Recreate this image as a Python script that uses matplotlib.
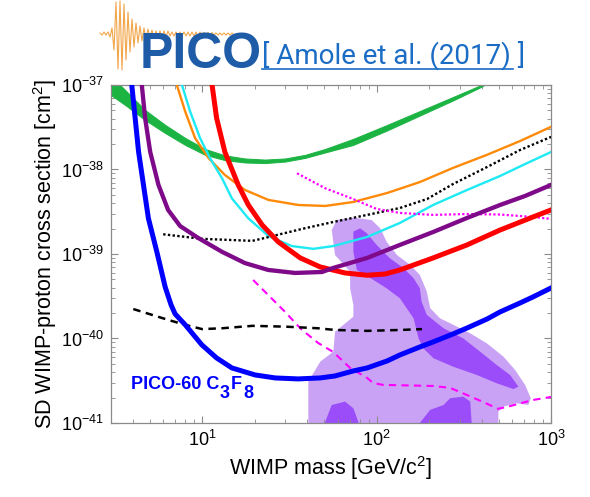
import matplotlib.pyplot as plt
from matplotlib.lines import Line2D
from matplotlib.ticker import LogLocator, NullFormatter

plt.rcParams['font.family'] = ['Liberation Sans', 'DejaVu Sans']
plt.rcParams['mathtext.fontset'] = 'custom'
plt.rcParams['mathtext.rm'] = 'Liberation Sans'
plt.rcParams['mathtext.bf'] = 'Liberation Sans:bold'
plt.rcParams['mathtext.default'] = 'regular'

# WIMP mass [GeV/c^2] and SD WIMP-proton cross section [cm^2] for each limit curve
blue_m = [3.95, 4.13, 4.32, 4.61, 4.92, 5.50, 6.14, 6.64, 7.0, 8.0, 9.96, 12.1, 14.8,
          20.1, 26.2, 35.5, 47.5, 57.8, 73.3, 88.3, 115, 136, 177, 211, 274, 330,
          430, 510, 664, 788, 1000]
blue_s = [1e-37, 4.07e-38, 1.63e-38, 6.56e-39, 2.64e-39, 1.06e-39, 4.06e-40, 2.49e-40,
          1.95e-40, 1.45e-40, 8.4e-41, 5.88e-41, 4.48e-41, 3.7e-41, 3.41e-41, 3.32e-41,
          3.41e-41, 3.6e-41, 4.12e-41, 4.48e-41, 5.42e-41, 6.38e-41, 7.93e-41, 9.1e-41,
          1.13e-40, 1.33e-40, 1.7e-40, 2.06e-40, 2.63e-40, 3.1e-40, 3.96e-40]

purple_m = [4.51, 4.71, 5.04, 5.62, 6.38, 7.48, 9.48, 13.0, 17.6, 23.9, 34.1, 48.7,
            56.4, 88.3, 136, 211, 330, 510, 710, 1000]
purple_s = [1e-37, 4.07e-38, 1.61e-38, 6.56e-39, 3.32e-39, 2.14e-39, 1.55e-39,
            1.06e-39, 7.8e-40, 6.47e-40, 5.96e-40, 6.12e-40, 6.83e-40, 8.98e-40,
            1.28e-39, 1.82e-39, 2.67e-39, 3.8e-39, 4.86e-39, 6.56e-39]

red_m = [11.4, 12.1, 13.5, 16.1, 18.4, 22.1, 27.3, 36.5, 47.5, 65.9, 88.3, 112, 136,
         211, 330, 510, 788, 1000]
red_s = [1e-37, 4.07e-38, 1.61e-38, 6.56e-39, 3.8e-39, 2.2e-39, 1.39e-39, 8.98e-40,
         7.02e-40, 5.96e-40, 5.6e-40, 5.79e-40, 6.47e-40, 8.98e-40, 1.28e-39,
         1.92e-39, 2.74e-39, 3.32e-39]

orange_m = [7.16, 8.0, 9.12, 10.9, 13.5, 17.6, 24.0, 35.6, 50.7, 73.3, 115, 177, 273,
            429, 664, 1000]
orange_s = [1e-37, 4.83e-38, 2.34e-38, 1.36e-38, 8.61e-39, 5.72e-39, 4.36e-39, 3.8e-39,
            3.7e-39, 4.12e-39, 5.27e-39, 7.1e-39, 1.04e-38, 1.49e-38, 2.17e-38, 3.2e-38]

cyan_m = [7.66, 8.54, 9.74, 11.1, 13.0, 14.8, 18.4, 24.0, 32.7, 43.3, 56.4, 88.3, 136,
          211, 330, 510, 710, 1000]
cyan_s = [1e-37, 4.83e-38, 2.34e-38, 1.36e-38, 7.87e-39, 4.56e-39, 2.64e-39, 1.63e-39,
          1.24e-39, 1.15e-39, 1.24e-39, 1.59e-39, 2.33e-39, 3.8e-39, 5.72e-39,
          8.37e-39, 1.16e-38, 1.61e-38]

green_m = [3.0, 3.62, 4.71, 6.14, 8.0, 10.4, 13.5, 17.6, 22.9, 29.9, 38.9, 50.7, 73.3,
           115, 177, 274, 402, 447]
green_hi = [1.28e-37, 8.73e-38, 5.06e-38, 3.37e-38, 2.36e-38, 1.75e-38, 1.47e-38,
            1.35e-38, 1.31e-38, 1.35e-38, 1.49e-38, 1.75e-38, 2.3e-38, 3.37e-38,
            4.92e-38, 7.21e-38, 1.01e-37, 1.2e-37]
green_lo = [7.6e-38, 5.8e-38, 3.85e-38, 2.7e-38, 1.95e-38, 1.49e-38, 1.29e-38,
            1.21e-38, 1.19e-38, 1.24e-38, 1.37e-38, 1.59e-38, 1.95e-38, 2.9e-38,
            4.35e-38, 6.56e-38, 9.6e-38, 1.12e-37]

dot_m = [5.98, 10, 19.4, 22.1, 29.9, 37.4, 56.4, 88.3, 136, 195, 274, 430, 664, 1000]
dot_s = [1.71e-39, 1.51e-39, 1.43e-39, 1.52e-39, 1.77e-39, 1.98e-39, 2.39e-39,
         2.9e-39, 3.5e-39, 4.48e-39, 6.72e-39, 1.07e-38, 1.7e-38, 2.43e-38]

magdot_m = [35.0, 50.7, 73.3, 100, 136, 211, 330, 510, 788, 1000]
magdot_s = [9.02e-39, 6.0e-39, 4.48e-39, 3.41e-39, 3.06e-39, 2.9e-39, 2.97e-39,
            2.93e-39, 2.74e-39, 2.6e-39]

dash_m = [4.03, 5.17, 6.38, 8.0, 10, 13.0, 19.4, 29.9, 46.2, 57.8, 88.3, 136, 182]
dash_s = [2.23e-40, 1.9e-40, 1.66e-40, 1.45e-40, 1.29e-40, 1.32e-40, 1.41e-40,
          1.38e-40, 1.32e-40, 1.26e-40, 1.23e-40, 1.26e-40, 1.29e-40]

magdash_m = [19.6, 23.9, 29.9, 36.9, 46.2, 56.4, 70.5, 88.3, 95.5, 109, 211, 264, 330,
             408, 497, 560, 788, 1000]
magdash_s = [4.92e-40, 3.27e-40, 2.06e-40, 1.29e-40, 8.85e-41, 6.92e-41, 4.48e-41,
             3.41e-41, 2.97e-41, 2.82e-41, 2.74e-41, 2.6e-41, 2.14e-41, 1.77e-41,
             1.47e-41, 1.55e-41, 1.87e-41, 2.03e-41]

# allowed regions (outer contour, inner contours)
light_m = [55.3, 59.2, 73.6, 93.7, 105, 114, 131, 156, 177, 194, 203, 231, 275, 344,
           428, 533, 622, 710, 765, 741, 635, 533, 499, 499, 40.6, 40.6, 47.5, 56.5,
           57.8, 73.6, 73.6, 70.5, 70.5, 57.8]
light_s = [1.92e-39, 2.52e-39, 2.69e-39, 2.52e-39, 2.01e-39, 1.4e-39, 9.7e-40, 7.4e-40,
           5.64e-40, 3.58e-40, 2.28e-40, 1.73e-40, 1.45e-40, 1.15e-40, 8.77e-41,
           6.1e-41, 4.24e-41, 2.82e-41, 1.96e-41, 1.63e-41, 1.71e-41, 1.56e-41,
           1.36e-41, 9e-42, 9e-42, 3.08e-41, 5.3e-41, 6.98e-41, 1.2e-40, 1.81e-40,
           2.49e-40, 3.93e-40, 6.18e-40, 9.7e-40]

dark_m = [73.6, 80.4, 87.9, 100, 119, 143, 163, 177, 181, 194, 242, 314, 392, 488,
          582, 650, 608, 488, 375, 275, 212, 185, 174, 163, 136, 114, 95.9, 77.1, 73.6]
dark_s = [1.84e-39, 2.01e-39, 1.76e-39, 1.28e-39, 8.9e-40, 6.8e-40, 5.15e-40,
          3.93e-40, 2.73e-40, 1.9e-40, 1.32e-40, 1.0e-40, 6.98e-41, 4.85e-41, 3.7e-41,
          2.69e-41, 2.52e-41, 2.95e-41, 3.7e-41, 4.63e-41, 5.83e-41, 7.66e-41,
          1.0e-40, 1.73e-40, 2.99e-40, 3.93e-40, 4.92e-40, 6.47e-40, 1.06e-39]

blob1_m = [49.5, 55.3, 65.9, 73.6, 80.4]
blob1_s = [9e-42, 1.63e-41, 1.79e-41, 1.49e-41, 9e-42]
blob2_m = [170, 203, 242, 264, 314, 344, 352]
blob2_s = [9e-42, 1.43e-41, 1.63e-41, 1.96e-41, 2.05e-41, 1.79e-41, 9e-42]

x_ticks = [10, 100, 1000]
y_ticks = [1e-41, 1e-40, 1e-39, 1e-38, 1e-37]

# logo waveform envelope (header decoration)
wave_env = [1, 1, 2, 1, 2, 3, 6, 16, 32, 35, 33, 36, 30, 26, 22, 18, 15, 13, 11, 9,
            8, 7, 6, 5, 5, 4, 4, 4, 3, 3, 3, 3, 3, 3, 3, 2, 2, 2, 2, 2, 2, 2, 2, 2,
            2, 2, 2, 2, 2, 2, 2, 1.5, 1.5, 1.5, 1.5, 1.5, 1.5, 1, 1, 1, 1, 1, 1, 1,
            1, 1, 1, 1]

LIGHT = '#C9A2F5'
DARK = '#9A4DF8'

fig = plt.figure(figsize=(5.9, 4.97), dpi=100)
ax = fig.add_axes([0.188, 0.149, 0.746, 0.680])

ax.fill(light_m, light_s, color=LIGHT, lw=0, zorder=1)
ax.fill(dark_m, dark_s, color=DARK, lw=0, zorder=1.1)
ax.fill(blob1_m, blob1_s, color=DARK, lw=0, zorder=1.1)
ax.fill(blob2_m, blob2_s, color=DARK, lw=0, zorder=1.1)

ax.fill_between(green_m, green_lo, green_hi, color='#1BB443', lw=0.7,
                edgecolor='#1BB443', zorder=2)

ax.plot(orange_m, orange_s, color='#FF8A0A', lw=1.7, zorder=3)
ax.plot(cyan_m, cyan_s, color='#1FE9F2', lw=1.7, zorder=3)
ax.plot(dot_m, dot_s, color='black', lw=1.7, ls=(0, (1, 1)), zorder=3)
ax.plot(magdot_m, magdot_s, color='#FF00FF', lw=1.6, ls=(0, (1, 1)), zorder=3)
ax.plot(magdash_m, magdash_s, color='#FF00FF', lw=1.5, ls=(0, (3.5, 2.5)), zorder=3)
ax.plot(dash_m, dash_s, color='black', lw=1.8, ls=(0, (3, 2.2)), zorder=3)
ax.plot(red_m, red_s, color='#FF0000', lw=3.6, zorder=4)
ax.plot(purple_m, purple_s, color='#7E0A8A', lw=3.1, zorder=4)
ax.plot(blue_m, blue_s, color='#0000FF', lw=3.6, zorder=5)

ax.set_xscale('log')
ax.set_yscale('log')
ax.set_xticks(x_ticks)
ax.set_yticks(y_ticks)
ax.set_xlim(3, 1000)
ax.set_ylim(1e-41, 1e-37)
ax.xaxis.set_minor_locator(LogLocator(base=10, subs=range(2, 10)))
ax.yaxis.set_minor_locator(LogLocator(base=10, subs=range(2, 10)))
ax.xaxis.set_minor_formatter(NullFormatter())
ax.yaxis.set_minor_formatter(NullFormatter())
ax.tick_params(which='both', direction='in', top=True, right=True,
               color='#8a8a8a', labelsize=13)
ax.tick_params(which='major', length=5, width=0.8, pad=5)
ax.tick_params(which='minor', length=3, width=0.6)
for sp in ax.spines.values():
    sp.set_color('#8a8a8a')
    sp.set_linewidth(0.9)

ax.set_xlabel('WIMP mass [GeV/c$^2$]', fontsize=15.5, labelpad=3)
ax.set_ylabel('SD WIMP-proton cross section [cm$^2$]', fontsize=15.5, labelpad=1)

# header + inline label, drawn in pixel units on a transparent overlay
hdr = fig.add_axes([0, 0, 1, 1], zorder=10)
hdr.set_xlim(0, 590)
hdr.set_ylim(497, 0)
hdr.axis('off')
hdr.patch.set_visible(False)

hdr.text(140, 68, 'PICO', fontsize=36, fontweight='bold', color='#1F5CA8',
         va='baseline')
wave_x = [100 + 2 * i for i in range(len(wave_env))]
wave_y = [34 + a * (1 if i % 2 else -1) for i, a in enumerate(wave_env)]
hdr.plot(wave_x, wave_y, color='#F2A64A', lw=0.8)

hdr.text(262, 64, '[ Amole et al. (2017) ]', fontsize=20, color='#1A6CC4',
         family=['Roboto', 'Liberation Sans'], va='baseline')
hdr.add_line(Line2D([262, 513], [69, 69], color='#1A6CC4', lw=1.2))

lab = dict(fontsize=13, fontweight='bold', color='#0000FF', va='baseline')
hdr.text(131, 389, 'PICO-60 C', **lab)
hdr.text(220, 398, '3', **lab)
hdr.text(231, 389, 'F', **lab)
hdr.text(243, 398, '8', **lab)

fig.savefig('out.png', dpi=100)
